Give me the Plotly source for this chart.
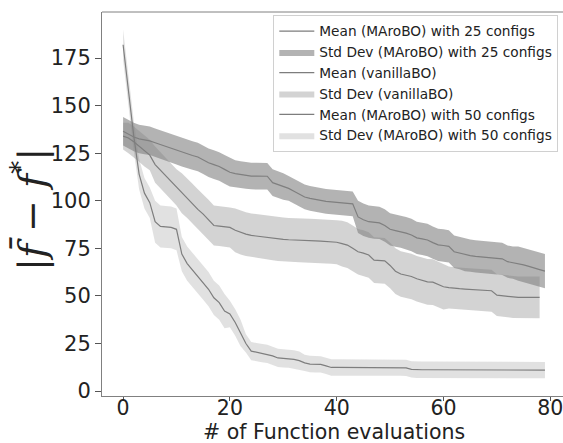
import plotly.graph_objects as go

# ---------------- data ----------------
mean_25 = [136.5, 135, 133.5, 132.5, 132, 131.5, 130.5, 129.5, 128.5, 127.5,
           126.5, 125.5, 124.5, 123.8, 123, 121.5, 120, 119, 118, 116.5,
           115, 114.3, 113.8, 113.3, 113, 113, 112.9, 112.9, 109.5, 108.5,
           107.5, 106.5, 105, 103.5, 102, 101.3, 100.6, 100.2, 99.7, 99.4,
           99, 98.8, 98.6, 98.4, 91.5, 90, 89, 88.6, 88.4, 87,
           85, 84.3, 83.8, 83, 82, 80.5, 80, 79.4, 78, 76.8,
           76.5, 76, 73.2, 72.5, 71.5, 71.2, 70.8, 70.5, 70.2, 70,
           69.7, 69.5, 68, 67.5, 67, 66.3, 65.5, 64.5, 63.8, 63]
std_25 = [7.5] * 21 + [7] * 10 + [6.5] * 13 + [8.5] * 30 + [9] * 6

mean_vanilla = [134, 133, 131, 128.5, 126, 124, 119, 116, 113, 110,
                107, 104, 101.5, 98.5, 95.5, 93, 90, 87, 86.7, 86.5,
                86, 84.5, 83.3, 82.5, 81.8, 81.4, 81, 80.6, 80.2, 79.9,
                79.7, 79.5, 79.3, 79.2, 79.1, 79, 78.9, 78.8, 78.6, 78.4,
                78.2, 77.5, 76.7, 75, 73.2, 72.5, 71.5, 68.8, 68.6, 68.4,
                66, 63, 61.5, 61, 60.2, 59, 58, 57.4, 57.2, 55.8,
                54.8, 54.4, 54, 53.8, 53.6, 53.4, 53.3, 53.1, 52.9, 52.7,
                50.4, 50.1, 49.8, 49.4, 49.2, 49.2, 49.2, 49.2, 49.2]
std_vanilla = [7] + [8] * 5 + [9.5] * 5 + [10.5] * 10 + [11.5] * 20 + [12] * 20 + [11] * 18

mean_50 = [182, 158, 134, 114, 104, 99, 89, 86.5, 86.3, 86,
           85, 72, 67, 63.5, 60.5, 57, 53.5, 49, 46.5, 42,
           40.5, 36, 30.5, 25, 21, 20.4, 20, 19.5, 18.5, 17.4,
           17.2, 17, 16.6, 16, 14.8, 14.2, 14.1, 14, 13.2, 12.4,
           12.4, 12.4, 12.4, 12.4, 12.4, 12.4, 12.4, 12.3, 12.3, 12.3,
           12.3, 12.3, 12.3, 12.2, 11.4, 11.2, 11.2, 11.2, 11.2, 11.1,
           11.1, 11.1, 11.1, 11.1, 11.1, 11.1, 11.1, 11.1, 11.0, 11.0,
           11.0, 11.0, 11.0, 11.0, 11.0, 11.0, 11.0, 11.0, 11.0, 11.0]
std_50 = [8] * 6 + [11] * 5 + [9] * 9 + [7] * 3 + [4.8] * 11 + [4.3] * 46

series = [
    ("Mean (MAroBO) with 25 configs", "Std Dev (MAroBO) with 25 configs", mean_25, std_25, 0.60),
    ("Mean (vanillaBO)", "Std Dev (vanillaBO)", mean_vanilla, std_vanilla, 0.35),
    ("Mean (MAroBO) with 50 configs", "Std Dev (MAroBO) with 50 configs", mean_50, std_50, 0.24),
]

x_ticks = [0, 20, 40, 60, 80]
y_ticks = [0, 25, 50, 75, 100, 125, 150, 175]
x_title = "# of Function evaluations"
y_title = "|<i>f̄</i> − <i>f</i><sup>*</sup>|"

fig = go.Figure()
for mean_name, std_name, m, s, alpha in series:
    xs = list(range(len(m)))
    upper = [a + b for a, b in zip(m, s)]
    lower = [a - b for a, b in zip(m, s)]
    fig.add_trace(go.Scatter(
        x=xs, y=m, mode="lines", name=mean_name,
        line=dict(color="rgb(125,125,125)", width=1.2)))
    fig.add_trace(go.Scatter(
        x=xs + xs[::-1], y=upper + lower[::-1], mode="lines", fill="toself",
        fillcolor="rgba(128,128,128,%g)" % alpha, line=dict(width=0, color="rgba(0,0,0,0)"),
        name=std_name))

axis_common = dict(
    showgrid=False, zeroline=False, showline=True, linecolor="#808080", linewidth=1,
    ticks="outside", tickwidth=1, tickcolor="#555555", automargin=False,
    ticklabeloverflow="allow",
)

fig.update_layout(
    width=563, height=443,
    margin=dict(l=102, r=0, t=12, b=47, pad=0),
    paper_bgcolor="white", plot_bgcolor="white",
    xaxis=dict(range=[-3.95, 82.38], tickvals=x_ticks, ticklen=4, ticklabelstandoff=-11,
               tickfont=dict(family="DejaVu Sans", size=20.5, color="#222222"), **axis_common),
    yaxis=dict(range=[-2.6, 199.2], tickvals=y_ticks, ticklen=6,
               tickfont=dict(family="DejaVu Sans", size=21, color="#222222"), **axis_common),
    showlegend=True,
    legend=dict(x=0.9898, y=0.993, xanchor="right", yanchor="top",
                bgcolor="rgba(255,255,255,0.85)", bordercolor="#d0d0d0", borderwidth=1,
                font=dict(family="DejaVu Sans", size=13.7, color="#222222"),
                itemwidth=35),
    shapes=[dict(type="line", xref="paper", yref="paper", x0=0, x1=1, y0=1, y1=1,
                 line=dict(color="#808080", width=1))],
    annotations=[
        dict(text=y_title, xref="paper", yref="paper",
             x=-0.158, y=0.485, textangle=-90, showarrow=False,
             xanchor="center", yanchor="middle",
             font=dict(family="DejaVu Serif", size=38, color="#222222")),
        dict(text=x_title, xref="paper", yref="paper",
             x=0.503, y=-0.095, showarrow=False, xanchor="center", yanchor="middle",
             font=dict(family="DejaVu Sans", size=20.5, color="#222222")),
    ],
)

fig.write_html("out.html", config={"displayModeBar": False},
               post_script="document.body.style.margin='0px';document.body.style.overflow='hidden';")
